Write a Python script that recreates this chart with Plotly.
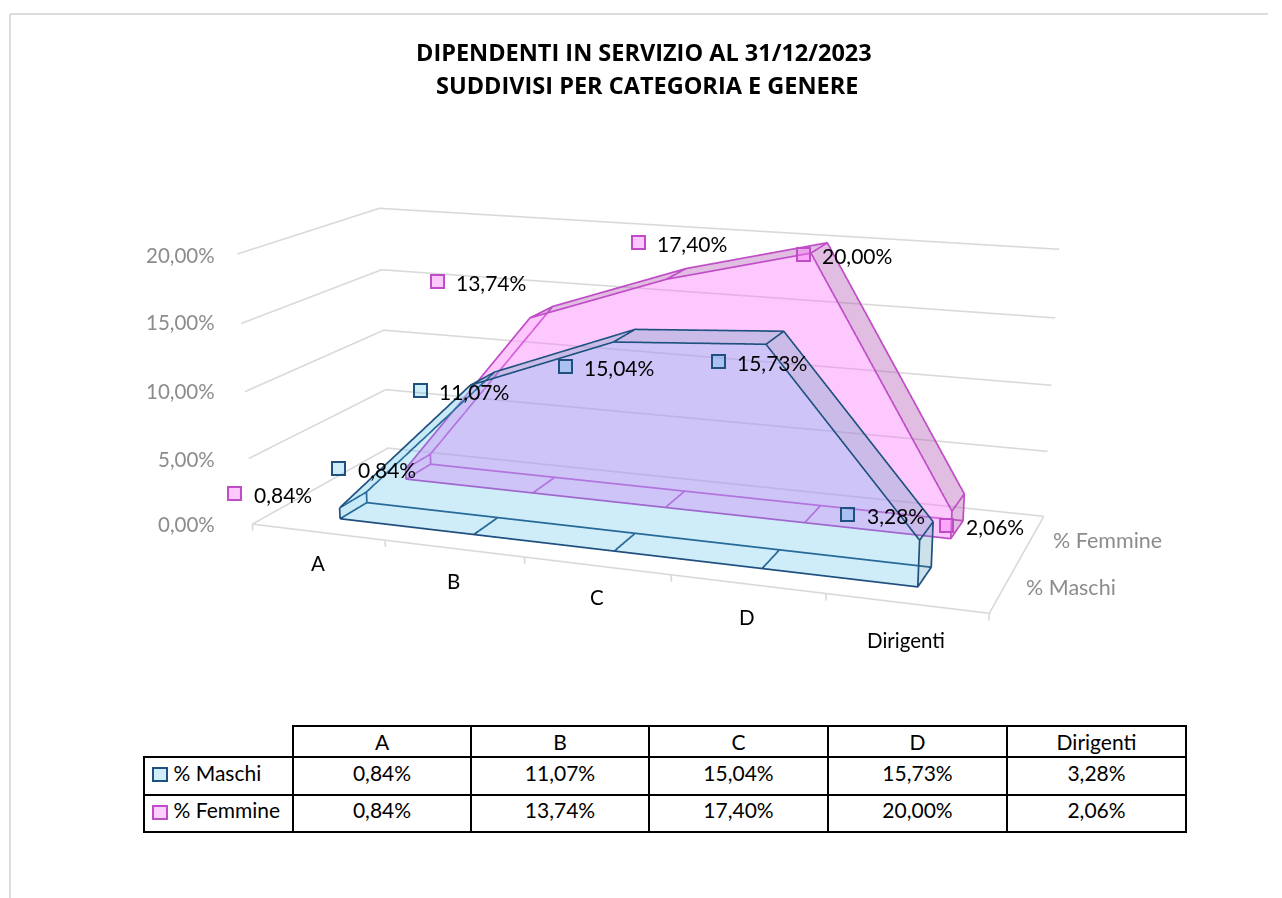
import numpy as np
import plotly.graph_objects as go

CATEGORIES = ["A", "B", "C", "D", "Dirigenti"]
SERIES = ["% Maschi", "% Femmine"]
MASCHI = [0.84, 11.07, 15.04, 15.73, 3.28]
FEMMINE = [0.84, 13.74, 17.40, 20.00, 2.06]
Z_TICKS = [0, 5, 10, 15, 20]

FONT = "Lato"
W, H = 1282, 898
VX, VY = 641, 449
FH = 1662
OFF = FH // 2 - VY
XE = (-0.5, 4.5); YE = (0, 2)
XR = (-0.52, 4.52); YR = (-0.02, 2.02); ZR = (-0.7, 20.5)
EYE = (1.6125, -4.4900, 1.2036)
CENTER = (0.0098, -0.0962, -0.1243)
UP = (0.0101, -0.0263, 1.0)
ASPECT = (float(np.exp(0.6150)), float(np.exp(-0.2850)), float(np.exp(0.2850 - 0.6150)))
BANDS = [(0.3086, 0.6983), (1.3054, 1.7144)]
M_LINE = "#1F5080"; F_LINE = "#C04CC8"

fmt = lambda v: f"{v:.2f}".replace(".", ",") + "%"
px = lambda v: v / W
py = lambda v: 1 - (v + OFF) / FH


def cam(x, y, z):
    """Page position of a data point, used only to offset labels from their data anchors."""
    w = np.array([((x - XR[0]) / (XR[1] - XR[0]) - .5) * ASPECT[0],
                  ((y - YR[0]) / (YR[1] - YR[0]) - .5) * ASPECT[1],
                  ((z - ZR[0]) / (ZR[1] - ZR[0]) - .5) * ASPECT[2]])
    e = np.array(EYE); f = np.array(CENTER) - e; f /= np.linalg.norm(f)
    r = np.cross(f, UP); r /= np.linalg.norm(r)
    u = np.cross(r, f)
    d = w - e
    k = 2.41421 * FH / 2
    zc = d @ f
    return VX + k * (d @ r) / zc, VY - k * (d @ u) / zc


def seg(lists):
    xs, ys, zs = [], [], []
    for l in lists:
        for q in l:
            xs.append(q[0]); ys.append(q[1]); zs.append(q[2])
        xs.append(None); ys.append(None); zs.append(None)
    return xs, ys, zs


LIGHT = dict(ambient=1, diffuse=0, specular=0, fresnel=0, roughness=1)


def band_mesh(vals, b, color, opac, first, side, cap, side_opac):
    n = len(vals); y0, y1 = BANDS[b]
    tr = []
    X = list(range(n)) * 2; Y = [y0] * (2 * n); Z = [0] * n + list(vals)
    i = []; j = []; k = []
    for t in range(n - 1):
        i += [t, t]; j += [t + 1, n + t + 1]; k += [n + t + 1, n + t]
    tr.append(go.Mesh3d(x=X, y=Y, z=Z, i=i, j=j, k=k, color=color, opacity=opac, flatshading=True, hoverinfo="skip", lighting=LIGHT))
    X = list(range(n)) * 2 + [n - 1] * 2 + [0] * 2; Y = [y0] * n + [y1] * n + [y0, y1] * 2; Z = list(vals) * 2 + [0, 0, 0, 0]
    i = []; j = []; k = []; fc = []
    for t in range(n - 1):
        i += [t, t]; j += [t + 1, n + t + 1]; k += [n + t + 1, n + t]
        fc += [first if t == 0 else side] * 2
    e = 2 * n
    i += [n - 1, n - 1]; j += [e, e + 1]; k += [e + 1, 2 * n - 1]; fc += [cap] * 2
    i += [0, 0]; j += [e + 2, e + 3]; k += [e + 3, n]; fc += [first] * 2
    tr.append(go.Mesh3d(x=X, y=Y, z=Z, i=i, j=j, k=k, facecolor=fc, opacity=side_opac, flatshading=True, hoverinfo="skip", lighting=LIGHT))
    return tr


def band_edges(vals, b, color):
    n = len(vals); y0, y1 = BANDS[b]
    L = []
    L.append([(t, y0, vals[t]) for t in range(n)])
    L.append([(t, y1, vals[t]) for t in range(n)])
    L.append([(0, y0, 0), (n - 1, y0, 0), (n - 1, y0, vals[-1])])
    L.append([(0, y0, 0), (0, y0, vals[0])])
    L.append([(0, y1, 0), (n - 1, y1, 0), (n - 1, y1, vals[-1])])
    L.append([(0, y1, 0), (0, y1, vals[0])])
    L.append([(0, y0, 0), (0, y1, 0)])
    for t in range(n):
        L.append([(t, y0, vals[t]), (t, y1, vals[t])])
    for t in range(1, n):
        L.append([(t, y0, 0), (t, y1, 0)])
    xs, ys, zs = seg(L)
    return go.Scatter3d(x=xs, y=ys, z=zs, mode="lines", line=dict(color=color, width=3.5), hoverinfo="skip", showlegend=False)


fig = go.Figure()
L = [[(XE[0], YE[0], v), (XE[0], YE[1], v), (XE[1], YE[1], v)] for v in Z_TICKS]
L.append([(XE[0], YE[0], 0), (XE[1], YE[0], 0), (XE[1], YE[1], 0)])
for t in range(len(CATEGORIES) + 1):
    L.append([(XE[0] + t, YE[0], 0), (XE[0] + t, YE[0], -0.5)])
xs, ys, zs = seg(L)
fig.add_trace(go.Scatter3d(x=xs, y=ys, z=zs, mode="lines", line=dict(color="#D9D9D9", width=3.2), hoverinfo="skip", showlegend=False))
fig.add_trace(band_edges(FEMMINE, 1, F_LINE))
fig.add_trace(band_edges(MASCHI, 0, M_LINE))
for t in band_mesh(FEMMINE, 1, "rgb(250,118,250)", 0.4, "rgb(252,195,252)", "rgb(180,92,180)", "rgb(180,92,180)", 0.4):
    fig.add_trace(t)
for t in band_mesh(MASCHI, 0, "rgb(65,184,228)", 0.25, "rgb(181,227,244)", "rgb(88,155,188)", "rgb(88,155,188)", 0.3):
    fig.add_trace(t)

SC = []
M_KEY = [(339, 469), (420, 391), (565, 367), (718, 361), (848, 514)]
F_KEY = [(235, 494), (437, 282), (638, 242), (803, 254), (947, 525)]


def key_labels(vals, b, keys, line, fill):
    y = sum(BANDS[b]) / 2
    for t, v in enumerate(vals):
        qx, qy = cam(t, y, v)
        dx, dy = keys[t][0] - qx, qy - keys[t][1]
        SC.append(dict(x=t, y=y, z=v, text=" ", showarrow=False, xshift=dx, yshift=dy, width=11, height=11,
                       bgcolor=fill, bordercolor=line, borderwidth=2, borderpad=0, font=dict(size=4)))
        SC.append(dict(x=t, y=y, z=v, text=fmt(v), showarrow=False, xanchor="left", xshift=dx + 17, yshift=dy - 1,
                       font=dict(family=FONT, size=21, color="black")))


key_labels(FEMMINE, 1, F_KEY, F_LINE, "rgba(250,118,250,0.4)")
key_labels(MASCHI, 0, M_KEY, M_LINE, "rgba(65,184,228,0.25)")
TICK_POS = [(217, 524), (217, 459), (217, 391), (217, 322), (217, 255)]
for v, (tx, ty) in zip(Z_TICKS, TICK_POS):
    qx, qy = cam(XE[0], YE[0], v)
    SC.append(dict(x=XE[0], y=YE[0], z=v, text=fmt(v), showarrow=False, xanchor="right", xshift=tx - qx, yshift=qy - ty,
                   font=dict(family=FONT, size=20.5, color="#8C8C8C")))
CAT_POS = [(318, 563), (454, 581), (597, 597), (747, 617), (906, 640)]
for t, (cname, (tx, ty)) in enumerate(zip(CATEGORIES, CAT_POS)):
    qx, qy = cam(t, YE[0], 0)
    SC.append(dict(x=t, y=YE[0], z=0, text=cname, showarrow=False, xshift=tx - qx, yshift=qy - ty,
                   font=dict(family=FONT, size=20.5, color="black")))
SER_POS = [(1024, 587), (1051, 540)]
for t, (s, (tx, ty)) in enumerate(zip(SERIES, SER_POS)):
    qx, qy = cam(XE[1], t + .5, 0)
    SC.append(dict(x=XE[1], y=t + .5, z=0, text=s, showarrow=False, xanchor="left", xshift=tx - qx, yshift=qy - ty,
                   font=dict(family=FONT, size=21.5, color="#8C8C8C")))

axis = dict(visible=False, showbackground=False, showgrid=False, zeroline=False, showspikes=False)
fig.update_layout(width=W, height=FH, margin=dict(l=0, r=0, t=0, b=0), paper_bgcolor="white", showlegend=False,
    scene=dict(domain=dict(x=[0, 1], y=[0, 1]),
        xaxis=dict(range=list(XR), **axis), yaxis=dict(range=list(YR), **axis), zaxis=dict(range=list(ZR), **axis),
        aspectmode="manual", aspectratio=dict(x=ASPECT[0], y=ASPECT[1], z=ASPECT[2]),
        camera=dict(eye=dict(x=EYE[0], y=EYE[1], z=EYE[2]), center=dict(x=CENTER[0], y=CENTER[1], z=CENTER[2]),
                    up=dict(x=UP[0], y=UP[1], z=UP[2]), projection=dict(type="perspective")),
        annotations=SC))

C_X = [144, 293, 471, 649, 828, 1007, 1186]
R_Y = [726, 757, 794, 832]
cols = [["\u00a0\u00a0\u00a0\u00a0" + s.replace(" ", "\u00a0") for s in SERIES]] + [[fmt(a), fmt(b)] for a, b in zip(MASCHI, FEMMINE)]
fig.add_trace(go.Table(domain=dict(x=[px(C_X[0]), px(C_X[-1])], y=[py(R_Y[-1] + 4), py(R_Y[0])]),
    columnwidth=[C_X[i + 1] - C_X[i] for i in range(6)],
    header=dict(values=[""] + CATEGORIES, height=31, align="center", fill_color="rgba(0,0,0,0)",
        line=dict(color=["rgba(0,0,0,0)"] + ["black"] * 5, width=2), font=dict(family=FONT, size=21, color="black")),
    cells=dict(values=cols, height=37.5, align=["left"] + ["center"] * 5, fill_color="rgba(0,0,0,0)",
        line=dict(color="black", width=2), font=dict(family=FONT, size=21, color="black"))))
shapes = []
for yy, l, fc in [(768, M_LINE, "#D0EEF8"), (806, F_LINE, "#FDD0FD")]:
    shapes.append(dict(type="rect", xref="paper", yref="paper", x0=px(153), x1=px(167), y0=py(yy), y1=py(yy + 13), line=dict(color=l, width=2), fillcolor=fc))
shapes.append(dict(type="line", xref="paper", yref="paper", x0=px(10), x1=px(1268), y0=py(14), y1=py(14), line=dict(color="#DDDDDD", width=2)))
shapes.append(dict(type="line", xref="paper", yref="paper", x0=px(10), x1=px(10), y0=py(14), y1=py(898), line=dict(color="#DDDDDD", width=2)))
fig.update_layout(shapes=shapes, annotations=[
    dict(xref="paper", yref="paper", x=px(644), y=py(52), yanchor="middle", text="<b>DIPENDENTI IN SERVIZIO AL 31/12/2023</b>", showarrow=False, font=dict(family="Open Sans", size=23.5, color="black")),
    dict(xref="paper", yref="paper", x=px(647), y=py(85), yanchor="middle", text="<b>SUDDIVISI PER CATEGORIA E GENERE</b>", showarrow=False, font=dict(family="Open Sans", size=23.5, color="black")),
])
POST = f"""document.documentElement.style.overflow='hidden';document.body.style.overflow='hidden';
document.body.style.margin='0';document.body.style.height='{H}px';
var g=document.getElementsByClassName('plotly-graph-div')[0];g.style.marginTop='-{OFF}px';"""
fig.write_html("out.html", post_script=POST, config=dict(displayModeBar=False))
